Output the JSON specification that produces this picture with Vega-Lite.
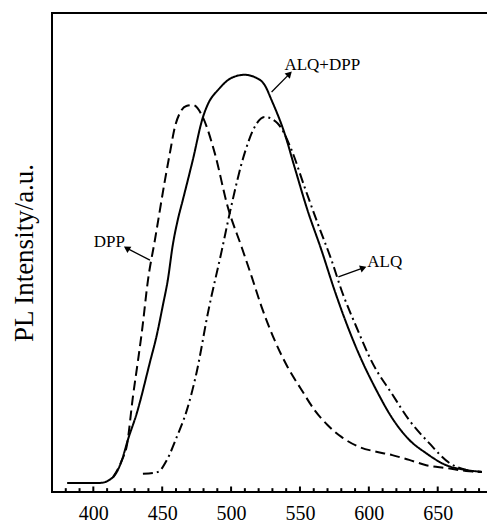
{
  "$schema": "https://vega.github.io/schema/vega-lite/v6.json",
  "width": 436,
  "height": 479,
  "autosize": "none",
  "padding": {"left": 52, "top": 13, "right": 0, "bottom": 30},
  "config": {
    "view": {"stroke": "black", "strokeWidth": 2},
    "axis": {"grid": false, "labelColor": "black", "titleColor": "black", "tickColor": "black"}
  },
  "datasets": {
    "curves": [
      {"s": "ALQ+DPP", "wl": 381, "I": 1.9},
      {"s": "ALQ+DPP", "wl": 405, "I": 1.9},
      {"s": "ALQ+DPP", "wl": 414.3, "I": 3.1},
      {"s": "ALQ+DPP", "wl": 420.8, "I": 6.7},
      {"s": "ALQ+DPP", "wl": 425.1, "I": 10.9},
      {"s": "ALQ+DPP", "wl": 431.6, "I": 16.5},
      {"s": "ALQ+DPP", "wl": 441.1, "I": 27.1},
      {"s": "ALQ+DPP", "wl": 446.1, "I": 32.8},
      {"s": "ALQ+DPP", "wl": 450.5, "I": 39.0},
      {"s": "ALQ+DPP", "wl": 454.1, "I": 44.3},
      {"s": "ALQ+DPP", "wl": 457.7, "I": 51.6},
      {"s": "ALQ+DPP", "wl": 461.3, "I": 56.8},
      {"s": "ALQ+DPP", "wl": 465.0, "I": 61.0},
      {"s": "ALQ+DPP", "wl": 472.2, "I": 69.3},
      {"s": "ALQ+DPP", "wl": 479.4, "I": 78.1},
      {"s": "ALQ+DPP", "wl": 482.3, "I": 80.4},
      {"s": "ALQ+DPP", "wl": 491.7, "I": 84.3},
      {"s": "ALQ+DPP", "wl": 500, "I": 86.4},
      {"s": "ALQ+DPP", "wl": 509.8, "I": 87.1},
      {"s": "ALQ+DPP", "wl": 518, "I": 86.5},
      {"s": "ALQ+DPP", "wl": 524.3, "I": 85.0},
      {"s": "ALQ+DPP", "wl": 529.4, "I": 81.8},
      {"s": "ALQ+DPP", "wl": 538.8, "I": 74.9},
      {"s": "ALQ+DPP", "wl": 546.1, "I": 67.8},
      {"s": "ALQ+DPP", "wl": 555.4, "I": 58.9},
      {"s": "ALQ+DPP", "wl": 565.6, "I": 50.5},
      {"s": "ALQ+DPP", "wl": 575.0, "I": 42.2},
      {"s": "ALQ+DPP", "wl": 582.3, "I": 36.3},
      {"s": "ALQ+DPP", "wl": 593.1, "I": 28.6},
      {"s": "ALQ+DPP", "wl": 605.4, "I": 21.3},
      {"s": "ALQ+DPP", "wl": 617.0, "I": 15.4},
      {"s": "ALQ+DPP", "wl": 629.3, "I": 10.9},
      {"s": "ALQ+DPP", "wl": 641.6, "I": 8.1},
      {"s": "ALQ+DPP", "wl": 656.1, "I": 5.6},
      {"s": "ALQ+DPP", "wl": 670.6, "I": 4.6},
      {"s": "ALQ+DPP", "wl": 682, "I": 4.2},

      {"s": "DPP", "wl": 414.3, "I": 3.1},
      {"s": "DPP", "wl": 420.8, "I": 6.7},
      {"s": "DPP", "wl": 424.4, "I": 9.8},
      {"s": "DPP", "wl": 428.7, "I": 19.8},
      {"s": "DPP", "wl": 432.5, "I": 27.6},
      {"s": "DPP", "wl": 435.4, "I": 33.8},
      {"s": "DPP", "wl": 439.7, "I": 44.3},
      {"s": "DPP", "wl": 444.7, "I": 52.6},
      {"s": "DPP", "wl": 452.0, "I": 65.1},
      {"s": "DPP", "wl": 455.6, "I": 70.8},
      {"s": "DPP", "wl": 459.2, "I": 76.2},
      {"s": "DPP", "wl": 462.8, "I": 79.1},
      {"s": "DPP", "wl": 467.5, "I": 80.6},
      {"s": "DPP", "wl": 472.2, "I": 80.8},
      {"s": "DPP", "wl": 479.4, "I": 78.3},
      {"s": "DPP", "wl": 488.1, "I": 70.8},
      {"s": "DPP", "wl": 497.6, "I": 59.5},
      {"s": "DPP", "wl": 507.7, "I": 51.1},
      {"s": "DPP", "wl": 515.0, "I": 44.9},
      {"s": "DPP", "wl": 522.2, "I": 38.6},
      {"s": "DPP", "wl": 531.6, "I": 31.7},
      {"s": "DPP", "wl": 541.0, "I": 26.1},
      {"s": "DPP", "wl": 551.2, "I": 21.3},
      {"s": "DPP", "wl": 560.6, "I": 17.1},
      {"s": "DPP", "wl": 570.0, "I": 14.0},
      {"s": "DPP", "wl": 580.1, "I": 11.5},
      {"s": "DPP", "wl": 593.1, "I": 9.4},
      {"s": "DPP", "wl": 605.4, "I": 8.4},
      {"s": "DPP", "wl": 617.0, "I": 7.7},
      {"s": "DPP", "wl": 629.3, "I": 6.7},
      {"s": "DPP", "wl": 641.6, "I": 5.6},
      {"s": "DPP", "wl": 656.1, "I": 5.0},
      {"s": "DPP", "wl": 670.6, "I": 4.4},
      {"s": "DPP", "wl": 682, "I": 4.2},

      {"s": "ALQ", "wl": 436.0, "I": 3.8},
      {"s": "ALQ", "wl": 446.9, "I": 4.2},
      {"s": "ALQ", "wl": 453.4, "I": 6.7},
      {"s": "ALQ", "wl": 460.6, "I": 11.5},
      {"s": "ALQ", "wl": 467.9, "I": 17.1},
      {"s": "ALQ", "wl": 475.0, "I": 25.0},
      {"s": "ALQ", "wl": 483.2, "I": 37.4},
      {"s": "ALQ", "wl": 493.3, "I": 50.5},
      {"s": "ALQ", "wl": 499.0, "I": 58.2},
      {"s": "ALQ", "wl": 509.9, "I": 70.8},
      {"s": "ALQ", "wl": 517.1, "I": 76.2},
      {"s": "ALQ", "wl": 524.3, "I": 78.3},
      {"s": "ALQ", "wl": 533.7, "I": 77.0},
      {"s": "ALQ", "wl": 543.9, "I": 71.4},
      {"s": "ALQ", "wl": 553.3, "I": 63.7},
      {"s": "ALQ", "wl": 562.7, "I": 56.2},
      {"s": "ALQ", "wl": 572.9, "I": 48.4},
      {"s": "ALQ", "wl": 580.8, "I": 41.6},
      {"s": "ALQ", "wl": 590.9, "I": 34.5},
      {"s": "ALQ", "wl": 602.5, "I": 27.0},
      {"s": "ALQ", "wl": 617.0, "I": 20.4},
      {"s": "ALQ", "wl": 629.3, "I": 15.0},
      {"s": "ALQ", "wl": 643.8, "I": 10.2},
      {"s": "ALQ", "wl": 658.3, "I": 6.1},
      {"s": "ALQ", "wl": 670.6, "I": 4.6},
      {"s": "ALQ", "wl": 682, "I": 4.2}
    ],
    "labelsLeft": [
      {"text": "ALQ+DPP", "wl": 538.7, "I": 89.1},
      {"text": "ALQ", "wl": 598.9, "I": 48.0}
    ],
    "labelsRight": [
      {"text": "DPP", "wl": 423.0, "I": 52.2}
    ],
    "arrows": [
      {"x1": 529.4, "y1": 83.5, "x2": 542.4, "y2": 87.3, "ang": 45},
      {"x1": 441.1, "y1": 48.4, "x2": 424.2, "y2": 50.9, "ang": 302},
      {"x1": 577.9, "y1": 44.9, "x2": 596.0, "y2": 46.8, "ang": 70}
    ],
    "majorTicks": [
      {"t": 400}, {"t": 450}, {"t": 500}, {"t": 550}, {"t": 600}, {"t": 650}
    ],
    "minorTicks": [
      {"t": 380}, {"t": 390}, {"t": 410}, {"t": 420}, {"t": 430}, {"t": 440},
      {"t": 460}, {"t": 470}, {"t": 480}, {"t": 490}, {"t": 510}, {"t": 520},
      {"t": 530}, {"t": 540}, {"t": 560}, {"t": 570}, {"t": 580}, {"t": 590},
      {"t": 610}, {"t": 620}, {"t": 630}, {"t": 640}, {"t": 660}, {"t": 670},
      {"t": 680}
    ]
  },
  "layer": [
    {
      "data": {"name": "curves"},
      "mark": {"type": "line", "color": "black", "strokeWidth": 2, "interpolate": "monotone"},
      "encoding": {
        "x": {
          "field": "wl", "type": "quantitative",
          "scale": {"domain": [370, 686.5], "nice": false, "zero": false},
          "axis": {
            "title": null,
            "values": [400, 450, 500, 550, 600, 650],
            "labelFont": "Liberation Serif",
            "labelFontSize": 20,
            "labelPadding": 11,
            "ticks": false,
            "domain": false,
            "labelFlush": false
          }
        },
        "y": {
          "field": "I", "type": "quantitative",
          "scale": {"domain": [0, 100], "nice": false},
          "axis": {
            "title": "PL Intensity/a.u.",
            "titleFont": "Liberation Serif",
            "titleFontSize": 27,
            "titleFontWeight": "normal",
            "titlePadding": 14,
            "ticks": false,
            "labels": false,
            "domain": false
          }
        },
        "detail": {"field": "s"},
        "strokeDash": {
          "field": "s", "type": "nominal",
          "scale": {"domain": ["ALQ+DPP", "DPP", "ALQ"], "range": [[1, 0], [10, 5], [10, 4, 2, 4]]},
          "legend": null
        }
      }
    },
    {
      "data": {"name": "majorTicks"},
      "mark": {"type": "rule", "color": "black", "strokeWidth": 2},
      "encoding": {
        "x": {"field": "t", "type": "quantitative"},
        "y": {"datum": 0, "type": "quantitative"},
        "y2": {"datum": 1.15}
      }
    },
    {
      "data": {"name": "minorTicks"},
      "mark": {"type": "rule", "color": "black", "strokeWidth": 2},
      "encoding": {
        "x": {"field": "t", "type": "quantitative"},
        "y": {"datum": 0, "type": "quantitative"},
        "y2": {"datum": 0.8}
      }
    },
    {
      "data": {"name": "arrows"},
      "mark": {"type": "rule", "color": "black", "strokeWidth": 1.3},
      "encoding": {
        "x": {"field": "x1", "type": "quantitative"},
        "y": {"field": "y1", "type": "quantitative"},
        "x2": {"field": "x2"},
        "y2": {"field": "y2"}
      }
    },
    {
      "data": {"name": "arrows"},
      "mark": {"type": "point", "shape": "triangle-up", "filled": true, "color": "black", "size": 55, "opacity": 1},
      "encoding": {
        "x": {"field": "x2", "type": "quantitative"},
        "y": {"field": "y2", "type": "quantitative"},
        "angle": {"field": "ang", "type": "quantitative", "scale": null}
      }
    },
    {
      "data": {"name": "labelsLeft"},
      "mark": {"type": "text", "font": "Liberation Serif", "fontSize": 17, "color": "black", "baseline": "middle", "align": "left"},
      "encoding": {
        "x": {"field": "wl", "type": "quantitative"},
        "y": {"field": "I", "type": "quantitative"},
        "text": {"field": "text"}
      }
    },
    {
      "data": {"name": "labelsRight"},
      "mark": {"type": "text", "font": "Liberation Serif", "fontSize": 17, "color": "black", "baseline": "middle", "align": "right"},
      "encoding": {
        "x": {"field": "wl", "type": "quantitative"},
        "y": {"field": "I", "type": "quantitative"},
        "text": {"field": "text"}
      }
    }
  ]
}
